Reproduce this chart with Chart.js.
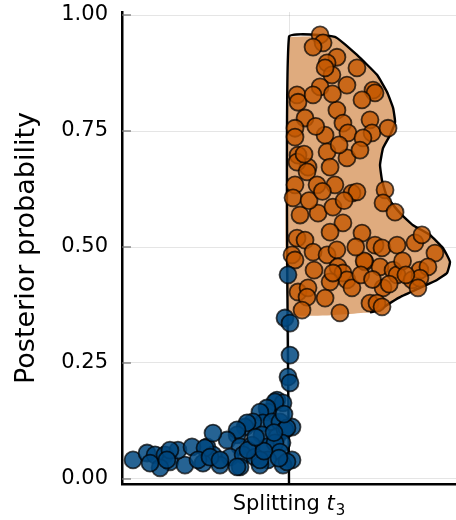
<!DOCTYPE html>
<html>
<head>
<meta charset="utf-8">
<script src="https://cdn.jsdelivr.net/npm/chart.js@4"></script>
<style>
  body { margin: 0; background: #fff; }
</style>
</head>
<body>
<canvas id="myChart" width="456" height="520"></canvas>
<script>
const yTicks = [0, 0.25, 0.5, 0.75, 1];
const yMin = -0.0108;
const yMax = 1.0065;

// half violin (right side) for the orange group
const violinY = [0.953, 0.953, 0.914, 0.871, 0.834, 0.800, 0.769, 0.741, 0.713, 0.677, 0.644, 0.608, 0.573, 0.547, 0.526, 0.498, 0.468, 0.444, 0.429, 0.412, 0.392, 0.375, 0.364, 0.359];
const violinW = [0, 0.275, 0.407, 0.527, 0.587, 0.623, 0.635, 0.605, 0.563, 0.545, 0.557, 0.587, 0.665, 0.743, 0.844, 0.922, 0.964, 0.946, 0.886, 0.784, 0.665, 0.587, 0.545, 0.485];

const blueLineY = [-0.0108, 0.359];

const orangeX = [0.186, 0.204, 0.144, 0.287, 0.228, 0.257, 0.216, 0.407, 0.347, 0.186, 0.048, 0.054, 0.144, 0.503, 0.515, 0.437, 0.287, 0.096, 0.323, 0.036, 0.036, 0.216, 0.353, 0.485, 0.497, 0.443, 0.593, 0.228, 0.054, 0.347, 0.114, 0.246, 0.048, 0.108, 0.036, 0.168, 0.275, 0.377, 0.407, 0.575, 0.563, 0.635, 0.024, 0.066, 0.174, 0.263, 0.323, 0.246, 0.437, 0.048, 0.096, 0.018, 0.036, 0.144, 0.228, 0.287, 0.455, 0.515, 0.557, 0.647, 0.754, 0.796, 0.874, 0.293, 0.323, 0.347, 0.377, 0.246, 0.263, 0.545, 0.623, 0.647, 0.737, 0.784, 0.832, 0.784, 0.772, 0.563, 0.054, 0.114, 0.108, 0.216, 0.078, 0.305, 0.485, 0.527, 0.557, 0.425, 0.120, 0.200, 0.330, 0.450, 0.680, 0.700, 0.600, 0.150, 0.400, 0.090, 0.300, 0.160, 0.260, 0.430, 0.500];
const orangeY = [0.957, 0.940, 0.931, 0.909, 0.897, 0.871, 0.886, 0.886, 0.849, 0.845, 0.828, 0.812, 0.828, 0.838, 0.832, 0.817, 0.795, 0.778, 0.767, 0.756, 0.737, 0.741, 0.746, 0.774, 0.746, 0.735, 0.756, 0.705, 0.698, 0.692, 0.672, 0.672, 0.683, 0.662, 0.634, 0.634, 0.634, 0.616, 0.619, 0.623, 0.595, 0.575, 0.606, 0.569, 0.573, 0.586, 0.552, 0.532, 0.530, 0.519, 0.515, 0.483, 0.472, 0.489, 0.483, 0.494, 0.468, 0.504, 0.498, 0.504, 0.509, 0.526, 0.487, 0.457, 0.444, 0.429, 0.412, 0.425, 0.444, 0.457, 0.450, 0.440, 0.429, 0.450, 0.457, 0.433, 0.412, 0.412, 0.403, 0.412, 0.392, 0.390, 0.364, 0.358, 0.379, 0.379, 0.371, 0.709, 0.600, 0.620, 0.600, 0.470, 0.470, 0.440, 0.420, 0.450, 0.500, 0.700, 0.720, 0.760, 0.830, 0.440, 0.430];

const blueX = [-0.006, -0.024, 0.006, 0.006, -0.006, 0.006, -0.072, -0.036, -0.084, -0.126, -0.132, -0.174, 0.018, -0.156, -0.102, -0.054, -0.216, -0.263, -0.251, -0.162, -0.072, -0.024, -0.012, -0.311, -0.311, -0.371, -0.293, -0.222, -0.132, -0.042, -0.084, -0.054, 0.018, -0.491, -0.455, -0.353, -0.275, -0.204, -0.126, -0.036, -0.413, -0.293, -0.174, -0.174, -0.515, -0.246, -0.012, -0.934, -0.850, -0.802, -0.743, -0.713, -0.772, -0.623, -0.665, -0.581, -0.503, -0.545, -0.455, -0.832, -0.713, -0.731, -0.473, -0.413, -0.311, -0.090, -0.150, -0.060, -0.200, -0.030];
const blueY = [0.440, 0.347, 0.336, 0.267, 0.220, 0.207, 0.170, 0.164, 0.166, 0.144, 0.153, 0.144, 0.112, 0.121, 0.123, 0.123, 0.123, 0.112, 0.121, 0.095, 0.091, 0.106, 0.110, 0.095, 0.106, 0.084, 0.069, 0.073, 0.069, 0.078, 0.078, 0.058, 0.041, 0.069, 0.052, 0.047, 0.052, 0.047, 0.041, 0.030, 0.030, 0.026, 0.030, 0.041, 0.034, 0.062, 0.037, 0.041, 0.056, 0.052, 0.052, 0.037, 0.024, 0.030, 0.062, 0.069, 0.067, 0.041, 0.099, 0.034, 0.062, 0.041, 0.047, 0.041, 0.026, 0.100, 0.060, 0.045, 0.090, 0.140];

const fontFamily = "'DejaVu Sans', sans-serif";

// violin polygon, closed along the centre line
let violinFill = violinY.map((y, i) => ({ x: violinW[i], y: y }));
violinFill.push({ x: 0, y: violinY[violinY.length - 1] });
violinFill.push({ x: 0, y: violinY[0] });

// outline: centre line from the bottom, then round the curve (no bottom edge)
let violinLine = [{ x: 0, y: blueLineY[0] }].concat(violinY.map((y, i) => ({ x: violinW[i], y: y })));

const tickMarks = {
  id: "tickMarks",
  beforeDatasetsDraw(chart) {
    const ctx = chart.ctx;
    const area = chart.chartArea;
    const ys = chart.scales.y;
    const xs = chart.scales.x;
    ctx.save();
    ctx.strokeStyle = "#777";
    ctx.lineWidth = 1.3;
    yTicks.forEach((v) => {
      const py = ys.getPixelForValue(v);
      ctx.beginPath();
      ctx.moveTo(area.left, py);
      ctx.lineTo(area.left + 9, py);
      ctx.stroke();
    });
    const px = xs.getPixelForValue(0);
    ctx.beginPath();
    ctx.moveTo(px, area.bottom);
    ctx.lineTo(px, area.bottom - 9);
    ctx.stroke();
    ctx.restore();
  },
  afterDraw(chart) {
    // x axis label with italic t and subscript 3
    const ctx = chart.ctx;
    const cx = chart.scales.x.getPixelForValue(0);
    const base = 510;
    ctx.save();
    ctx.fillStyle = "#000";
    ctx.textBaseline = "alphabetic";
    ctx.textAlign = "left";
    const f1 = "21px " + fontFamily;
    const f2 = "italic 21px " + fontFamily;
    const f3 = "15px " + fontFamily;
    ctx.font = f1;
    const w1 = ctx.measureText("Splitting ").width;
    ctx.font = f2;
    const w2 = ctx.measureText("t").width;
    ctx.font = f3;
    const w3 = ctx.measureText("3").width;
    let x0 = cx - (w1 + w2 + w3 + 1) / 2;
    ctx.font = f1;
    ctx.fillText("Splitting ", x0, base);
    ctx.font = f2;
    ctx.fillText("t", x0 + w1, base);
    ctx.font = f3;
    ctx.fillText("3", x0 + w1 + w2 + 1, base + 5);
    ctx.restore();
  },
};

let ctx = document.getElementById("myChart").getContext("2d");
let chart = new Chart(ctx, {
  type: "scatter",
  data: {
    datasets: [
      {
        type: "line",
        data: violinFill,
        backgroundColor: "#dfab7e",
        borderWidth: 0,
        pointRadius: 0,
        fill: "shape",
        tension: 0.12,
        order: 6,
      },
      {
        type: "line",
        data: violinLine,
        borderColor: "#000",
        borderWidth: 2.4,
        pointRadius: 0,
        fill: false,
        tension: 0.12,
        order: 5,
      },
      {
        data: orangeX.map((x, i) => ({ x: x, y: orangeY[i] })),
        backgroundColor: "rgba(196, 88, 0, 0.8)",
        borderColor: "rgba(0, 0, 0, 0.72)",
        borderWidth: 1.8,
        pointRadius: 8.5,
        order: 2,
      },
      {
        data: blueX.map((x, i) => ({ x: x, y: blueY[i] })),
        backgroundColor: "rgba(0, 72, 128, 0.85)",
        borderColor: "rgba(0, 0, 0, 0.72)",
        borderWidth: 1.8,
        pointRadius: 8.5,
        order: 1,
      },
    ],
  },
  options: {
    responsive: false,
    animation: false,
    layout: { autoPadding: false, padding: { top: 12, right: 0, left: 0, bottom: 0 } },
    plugins: {
      legend: { display: false },
      tooltip: { enabled: false },
    },
    scales: {
      x: {
        type: "linear",
        min: -1,
        max: 1,
        afterBuildTicks: (s) => {
          s.ticks = [{ value: 0 }];
        },
        afterFit: (s) => {
          s.height = 36;
          s.paddingLeft = 0;
          s.paddingRight = 0;
        },
        ticks: { display: false },
        grid: { color: "rgba(0,0,0,0.1)", drawTicks: false },
        border: { color: "#000", width: 2.5 },
      },
      y: {
        min: yMin,
        max: yMax,
        afterBuildTicks: (s) => {
          s.ticks = yTicks.map((v) => ({ value: v }));
        },
        afterFit: (s) => {
          s.width = 122;
          s.paddingTop = 0;
          s.paddingBottom = 0;
        },
        ticks: {
          padding: 14,
          color: "#000",
          font: { family: fontFamily, size: 21 },
          callback: (v) => v.toFixed(2),
        },
        grid: { color: "rgba(0,0,0,0.1)", drawTicks: false },
        border: { color: "#000", width: 2.5 },
        title: {
          display: true,
          text: "Posterior probability",
          color: "#000",
          font: { family: fontFamily, size: 27 },
          padding: { top: 11, bottom: 0 },
        },
      },
    },
  },
  plugins: [tickMarks],
});
</script>
</body>
</html>
